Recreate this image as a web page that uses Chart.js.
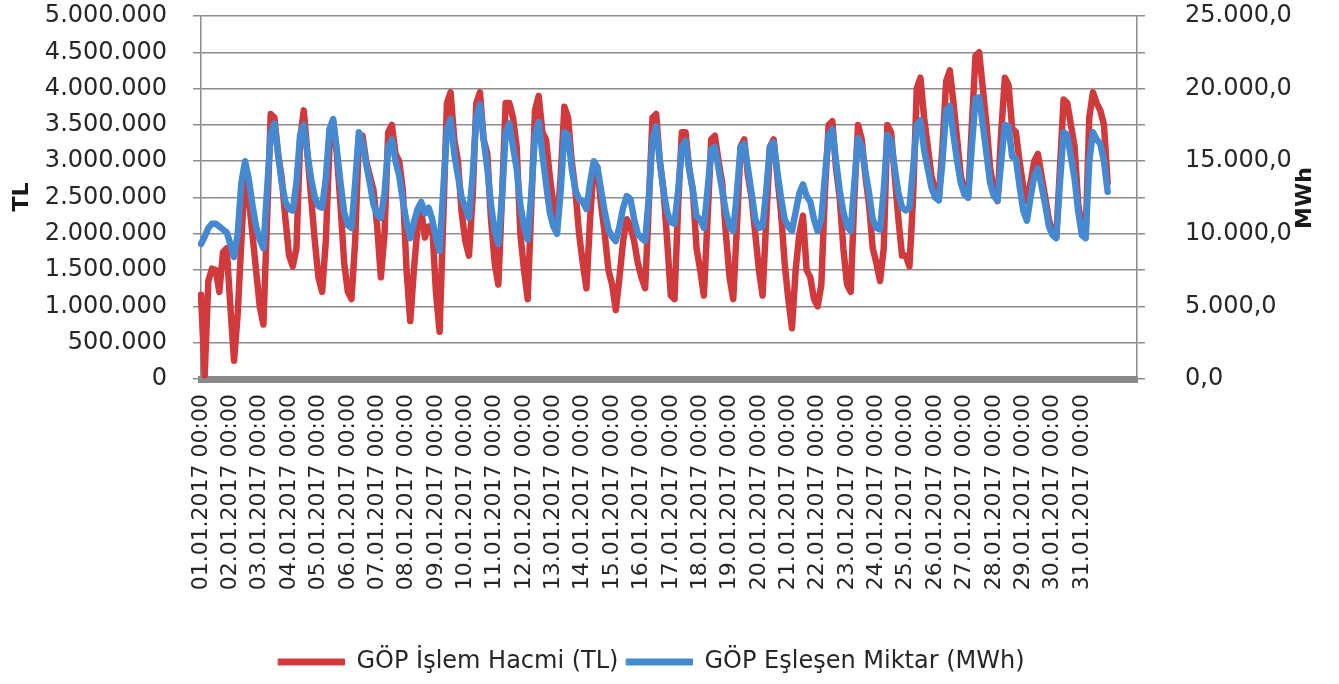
<!DOCTYPE html>
<html lang="tr">
<head>
<meta charset="utf-8">
<title>GÖP Ocak 2017</title>
<script src="https://cdn.jsdelivr.net/npm/chart.js@4.4.1/dist/chart.umd.min.js"></script>
<style>
  html, body { margin: 0; padding: 0; background: #fff; }
  #wrap { width: 1339px; height: 684px; }
</style>
</head>
<body>
<div id="wrap"><canvas id="canvas" width="1339" height="684"></canvas></div>
<script>
// Ocak 2017 - GÖP saatlik veriler (3 saatlik okumalar)
var gunler = ["01.01.2017","02.01.2017","03.01.2017","04.01.2017","05.01.2017","06.01.2017","07.01.2017","08.01.2017",
    "09.01.2017","10.01.2017","11.01.2017","12.01.2017","13.01.2017","14.01.2017","15.01.2017","16.01.2017",
    "17.01.2017","18.01.2017","19.01.2017","20.01.2017","21.01.2017","22.01.2017","23.01.2017","24.01.2017",
    "25.01.2017","26.01.2017","27.01.2017","28.01.2017","29.01.2017","30.01.2017","31.01.2017"];
var saatler = ["00:00","03:00","06:00","09:00","12:00","15:00","18:00","21:00"];
var bosKategori = 8; // eksen sonundaki boş kategoriler

// GÖP İşlem Hacmi (TL) - her satır bir gün
var islemHacmi = [
    1160000, 50000, 1350000, 1520000, 1500000, 1200000, 1750000, 1800000,
    1000000, 250000, 900000, 1900000, 2870000, 2500000, 2000000, 1500000,
    1000000, 750000, 2200000, 3650000, 3600000, 3100000, 2770000, 2200000,
    1700000, 1550000, 1800000, 3300000, 3700000, 3100000, 2500000, 1900000,
    1400000, 1200000, 1900000, 3200000, 3550000, 3100000, 2400000, 1600000,
    1200000, 1100000, 1900000, 3300000, 3350000, 3000000, 2800000, 2600000,
    2100000, 1400000, 2000000, 3400000, 3500000, 3100000, 3000000, 2600000,
    1500000, 800000, 1500000, 2100000, 2300000, 1950000, 2100000, 2100000,
    1200000, 650000, 2200000, 3800000, 3950000, 3300000, 3000000, 2300000,
    1900000, 1700000, 2500000, 3800000, 3950000, 3300000, 3100000, 2200000,
    1600000, 1300000, 2500000, 3800000, 3800000, 3600000, 3200000, 2000000,
    1500000, 1100000, 2400000, 3700000, 3900000, 3400000, 3300000, 2800000,
    2400000, 2100000, 2800000, 3750000, 3600000, 3000000, 2600000, 2000000,
    1600000, 1250000, 2200000, 2950000, 2900000, 2400000, 2000000, 1500000,
    1300000, 950000, 1400000, 1900000, 2200000, 2100000, 1900000, 1600000,
    1400000, 1250000, 2400000, 3600000, 3650000, 3000000, 2600000, 1900000,
    1150000, 1100000, 2400000, 3400000, 3400000, 2900000, 2600000, 1800000,
    1500000, 1150000, 2200000, 3300000, 3350000, 3000000, 2700000, 2000000,
    1400000, 1100000, 2100000, 3200000, 3300000, 2800000, 2500000, 2000000,
    1500000, 1150000, 2200000, 3200000, 3300000, 2800000, 2300000, 1600000,
    1100000, 700000, 1500000, 2000000, 2250000, 1500000, 1400000, 1100000,
    1000000, 1300000, 2600000, 3500000, 3550000, 2900000, 2500000, 1800000,
    1300000, 1200000, 2500000, 3500000, 3300000, 2800000, 2400000, 1800000,
    1600000, 1350000, 1800000, 3500000, 3400000, 2800000, 2200000, 1700000,
    1700000, 1550000, 2500000, 4000000, 4150000, 3600000, 3200000, 2800000,
    2600000, 2500000, 3200000, 4100000, 4250000, 3800000, 3300000, 2800000,
    2600000, 2500000, 3500000, 4450000, 4500000, 4000000, 3500000, 2900000,
    2600000, 2450000, 3400000, 4150000, 4050000, 3450000, 3400000, 3000000,
    2650000, 2450000, 2700000, 3000000, 3100000, 2800000, 2500000, 2200000,
    2000000, 1950000, 2900000, 3850000, 3800000, 3500000, 3200000, 2400000,
    2100000, 1950000, 3600000, 3950000, 3800000, 3700000, 3500000, 2700000
];

// GÖP Eşleşen Miktar (MWh)
var eslesenMiktar = [
    9300, 9800, 10400, 10700, 10700, 10500, 10300, 10100,
    9300, 8400, 10000, 13500, 15000, 13800, 12000, 10500,
    9600, 9000, 13000, 17000, 17600, 15500, 13500, 12200,
    11700, 11600, 13500, 16800, 17500, 15500, 13800, 12500,
    11900, 11800, 13800, 17200, 17900, 15800, 13500, 11500,
    10600, 10400, 13500, 17000, 16300, 14800, 13500, 12000,
    11300, 11100, 12800, 16000, 16500, 15000, 14000, 12300,
    10800, 9700, 10800, 11700, 12200, 11400, 11800, 11000,
    9700, 8800, 13000, 17200, 17900, 15500, 14000, 12500,
    11800, 11100, 14000, 18000, 18900, 16500, 14500, 12000,
    10200, 9300, 12500, 17000, 17600, 16000, 14500, 12000,
    10500, 9600, 12800, 16800, 17700, 15500, 13500, 11500,
    10500, 10000, 13000, 17000, 16800, 14500, 13000, 12400,
    12200, 11700, 13500, 15000, 14600, 13000, 11500, 10300,
    9800, 9500, 10500, 11800, 12600, 12400, 11000, 10000,
    9700, 9500, 12500, 16500, 17400, 15000, 13000, 11500,
    10800, 10700, 13000, 16000, 16400, 14500, 13000, 11200,
    11000, 10400, 13000, 15800, 16000, 14500, 13000, 11500,
    10500, 10200, 12800, 16000, 16200, 14500, 12800, 11000,
    10400, 10500, 13000, 16000, 16300, 14300, 12500, 11000,
    10500, 10200, 11500, 12800, 13400, 12600, 12200, 11000,
    10200, 11000, 14000, 16800, 17200, 15000, 13000, 11500,
    10500, 10200, 13500, 16600, 16000, 14300, 12800, 11000,
    10400, 10300, 13000, 16800, 16400, 14500, 12800, 11800,
    11600, 11800, 14500, 17500, 17800, 15800, 14500, 13200,
    12500, 12300, 15000, 18500, 18800, 16800, 15000, 13500,
    12700, 12500, 16000, 19300, 19400, 17500, 15500, 13500,
    12600, 12300, 15000, 17500, 17400, 15300, 15200, 13300,
    11600, 10900, 12500, 14000, 14500, 13300, 12000, 10500,
    9900, 9700, 13500, 17000, 16800, 15300, 13800, 11500,
    9900, 9700, 15000, 17000, 16500, 16200, 15000, 12900
];

// kategoriler
var etiketler = [];
gunler.forEach(function (g) {
    saatler.forEach(function (s) { etiketler.push(g + " " + s); });
});
for (var k = 0; k < bosKategori; k++) { etiketler.push(""); }

function binlik(n) {
    return String(n).replace(/\B(?=(\d{3})+(?!\d))/g, ".");
}

var yazi = { family: "'DejaVu Sans', sans-serif", size: 24 };
var yaziKucuk = { family: "'DejaVu Sans', sans-serif", size: 22 };
var yaziRengi = "#262626";
var izgaraRengi = "#8c8c8c";

// eksen başlıkları (ikisi de aşağıdan yukarı okunur)
var eksenBasliklari = {
    id: "eksenBasliklari",
    afterDraw: function (chart) {
        var c = chart.ctx;
        c.save();
        c.font = "bold 22px 'DejaVu Sans', sans-serif";
        c.fillStyle = "#1a1a1a";
        c.textAlign = "center";
        c.textBaseline = "middle";
        [["TL", 22, 197], ["MWh", 1305, 198]].forEach(function (t) {
            c.save();
            c.translate(t[1], t[2]);
            c.rotate(-Math.PI / 2);
            c.fillText(t[0], 0, 0);
            c.restore();
        });
        c.restore();
    }
};

var ctx = document.getElementById("canvas").getContext("2d");
var config = {
    type: "line",
    data: {
        labels: etiketler,
        datasets: [{
            label: "GÖP İşlem Hacmi (TL)",
            data: islemHacmi,
            yAxisID: "y",
            borderColor: "#d13a3c",
            backgroundColor: "#d13a3c",
            borderWidth: 6.5,
            pointRadius: 0,
            tension: 0,
            borderJoinStyle: "round",
            borderCapStyle: "round",
            order: 1
        }, {
            label: "GÖP Eşleşen Miktar (MWh)",
            data: eslesenMiktar,
            yAxisID: "y1",
            borderColor: "#4589d0",
            backgroundColor: "#4589d0",
            borderWidth: 6.5,
            pointRadius: 0,
            tension: 0,
            borderJoinStyle: "round",
            borderCapStyle: "round",
            order: 0
        }]
    },
    options: {
        responsive: false,
        animation: false,
        layout: { padding: { top: 16, bottom: 0, left: 0, right: 36 } },
        plugins: {
            tooltip: { enabled: false },
            legend: {
                position: "bottom",
                labels: {
                    font: yazi,
                    color: yaziRengi,
                    boxWidth: 66,
                    boxHeight: 6,
                    padding: 8,
                    generateLabels: function (chart) {
                        var items = Chart.defaults.plugins.legend.labels.generateLabels(chart);
                        items.forEach(function (it) { it.lineWidth = 1; });
                        items.sort(function (a, b) { return a.datasetIndex - b.datasetIndex; });
                        return items;
                    }
                }
            }
        },
        scales: {
            x: {
                grid: { display: false, drawTicks: false },
                border: { display: true, color: "#8a8a8a", width: 7 },
                ticks: {
                    autoSkip: false,
                    minRotation: 90,
                    maxRotation: 90,
                    padding: 15,
                    font: yaziKucuk,
                    color: yaziRengi,
                    callback: function (val, i) {
                        return i % saatler.length === 0 ? this.getLabelForValue(val) : "";
                    }
                },
                afterFit: function (s) { s.height = 263; }
            },
            y: {
                position: "left",
                min: 0,
                max: 5000000,
                grid: { color: izgaraRengi, lineWidth: 1.5, tickLength: 8 },
                border: { display: true, color: izgaraRengi, width: 1.5 },
                ticks: {
                    stepSize: 500000,
                    padding: 26,
                    font: yazi,
                    color: yaziRengi,
                    callback: function (v) { return binlik(v); }
                },
                afterFit: function (s) { s.width = 201; s.paddingTop = 8; s.paddingBottom = 8; }
            },
            y1: {
                position: "right",
                min: 0,
                max: 25000,
                grid: { drawOnChartArea: false, color: izgaraRengi, lineWidth: 1.5, tickLength: 8 },
                border: { display: true, color: izgaraRengi, width: 1.5 },
                ticks: {
                    stepSize: 2500,
                    padding: 40,
                    font: yazi,
                    color: yaziRengi,
                    callback: function (v) { return v % 5000 === 0 ? binlik(v) + ",0" : ""; }
                },
                afterFit: function (s) { s.width = 166; s.paddingTop = 8; s.paddingBottom = 8; }
            }
        }
    },
    plugins: [eksenBasliklari]
};
var grafik = new Chart(ctx, config);
</script>
</body>
</html>
